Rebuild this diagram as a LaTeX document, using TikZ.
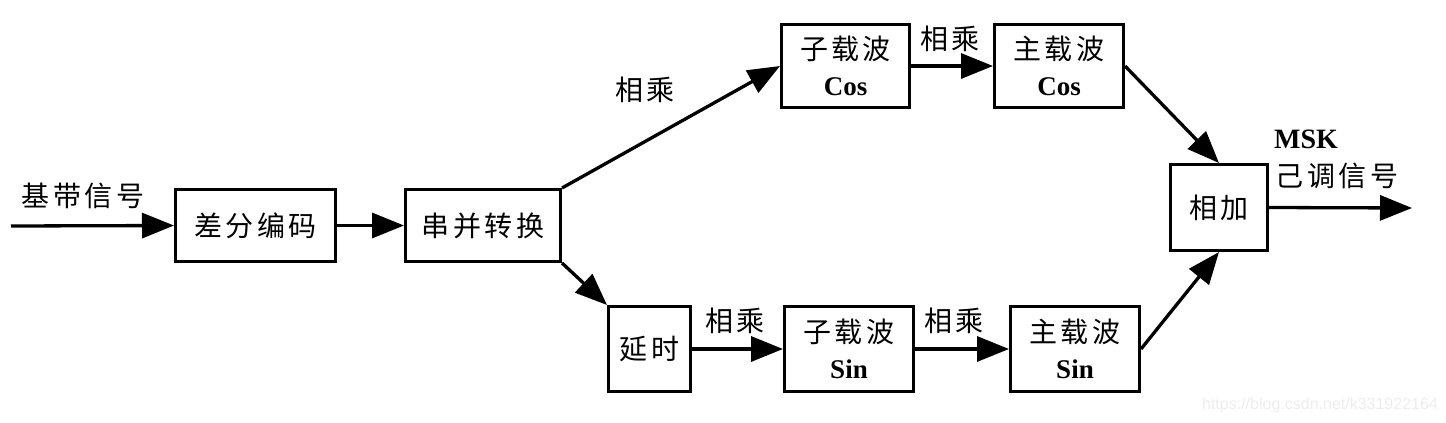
\documentclass[tikz,border=0pt]{standalone}
\usepackage{fontspec}
\newfontfamily\cjk{Noto Sans CJK SC}[LetterSpace=12]
\newfontfamily\lat{Liberation Serif}
\newfontfamily\wm{Liberation Sans}
\usetikzlibrary{arrows.meta}
\newcommand{\lt}[1]{{\lat\bfseries\fontsize{27}{36}\selectfont #1}}
\begin{document}
\begin{tikzpicture}[x=1pt,y=-1pt,
  blk/.style={draw, line width=3.3pt, inner sep=0pt, align=center, font=\cjk\fontsize{28}{36}\selectfont},
  lbl/.style={inner sep=0pt, font=\cjk\fontsize{28}{34}\selectfont},
  conn/.style={line width=3.3pt, -{Triangle[length=32pt,width=25pt]}},
  wire/.style={line width=3.3pt}]
\useasboundingbox (0,0) rectangle (1446,423);

% boxes
\node[blk, minimum width=159.7pt, minimum height=71.7pt] (dif) at (255.5,225.5) {差分编码};
\node[blk, minimum width=154.7pt, minimum height=71.7pt] (ser) at (483,225.5) {串并转换};
\node[blk, minimum width=127.7pt, minimum height=82.7pt] (subc) at (845.5,66) {子载波\\\lt{Cos}};
\node[blk, minimum width=128.7pt, minimum height=82.7pt] (mainc) at (1059,66) {主载波\\\lt{Cos}};
\node[blk, minimum width=81.7pt, minimum height=84.7pt] (dly) at (649.5,349) {延时};
\node[blk, minimum width=128.7pt, minimum height=84.7pt] (subs) at (849,349) {子载波\\\lt{Sin}};
\node[blk, minimum width=128.7pt, minimum height=84.7pt] (mains) at (1075,349) {主载波\\\lt{Sin}};
\node[blk, minimum width=96.7pt, minimum height=85.7pt] (add) at (1219,207.5) {相加};

% free ends
\coordinate (in) at (11,226);
\coordinate (out) at (1412,208);

% connectors
\draw[conn] (in) -- (dif.west);
\draw[conn] (dif.east) -- (ser.west);
\draw[conn] (ser.north east) -- (subc.west);
\draw[conn] (ser.south east) -- (dly.north west);
\draw[conn] (subc.east) -- (mainc.west);
\draw[conn] (dly.east) -- (subs.west);
\draw[conn] (subs.east) -- (mains.west);
\draw[conn] (mainc.east) -- (add.north);
\draw[conn] (mains.east) -- (add.south);
\draw[conn] (add.east) -- (out);

% labels
\node[lbl] (lin) at (83,196) {基带信号};
\node[lbl] (m1) at (645,90) {相乘};
\node[lbl] (m2) at (950,39) {相乘};
\node[lbl] (m3) at (735,321) {相乘};
\node[lbl] (m4) at (954,321) {相乘};
\node[inner sep=0pt, font=\lat\bfseries\fontsize{28}{34}\selectfont] (msk) at (1306,139) {MSK};
\node[lbl] (sig) at (1337,176) {己调信号};
\node[inner sep=0pt, text=black!7, font=\wm\fontsize{16}{20}\selectfont] (wmk) at (1320,405) {https://blog.csdn.net/k331922164};
\end{tikzpicture}
\end{document}
